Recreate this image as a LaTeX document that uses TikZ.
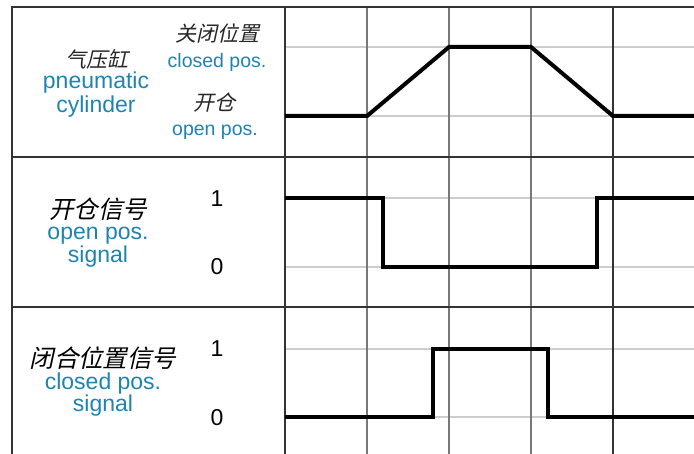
\documentclass[tikz,border=0pt]{standalone}
\usepackage{fontspec}
\setmainfont{Liberation Sans}
\newfontfamily\cjk[FakeSlant=0.22]{Noto Sans CJK SC}
\definecolor{lblue}{RGB}{30,132,175}
\definecolor{gridgray}{RGB}{120,120,120}
\definecolor{lightgray}{RGB}{205,205,205}
\begin{document}
\begin{tikzpicture}[x=1pt,y=-1pt,
  frame/.style={draw=black!80,line width=1.6pt},
  vgrid/.style={draw=gridgray,line width=1.3pt},
  hgrid/.style={draw=lightgray,line width=1.2pt},
  sig/.style={draw=black,line width=4pt,line join=miter},
  en/.style={text=lblue,anchor=base,inner sep=0pt,font=\fontsize{23}{26}\selectfont},
  ens/.style={text=lblue,anchor=base,inner sep=0pt,font=\fontsize{19.5}{22}\selectfont},
  zh/.style={inner sep=0pt,font=\cjk\fontsize{24.5}{26}\selectfont},
  zhs/.style={inner sep=0pt,text=black!85,font=\cjk\fontsize{21}{23}\selectfont},
  num/.style={anchor=base,inner sep=0pt,font=\fontsize{23}{25}\selectfont}]
\useasboundingbox (0,0) rectangle (694,454);
% light horizontal grid
\foreach \y in {47,116,198,267,349,417}
  \draw[hgrid] (285,\y) -- (694,\y);
% vertical grid
\foreach \x in {367,449,531}
  \draw[vgrid] (\x,7) -- (\x,454);
\draw[frame,line width=1.4pt] (613,7) -- (613,454);
% frame
\draw[frame] (694,7) -- (12,7) -- (12,454);
\draw[frame] (285,7) -- (285,454);
\draw[frame] (12,157) -- (694,157);
\draw[frame] (12,307) -- (694,307);
% signals
\draw[sig] (285,116) -- (367,116) -- (449,47) -- (531,47) -- (613,116) -- (694,116);
\draw[sig] (285,198) -- (383,198) -- (383,267) -- (597,267) -- (597,198) -- (694,198);
\draw[sig] (285,417) -- (433,417) -- (433,349) -- (548,349) -- (548,417) -- (694,417);
% row 1 labels
\node[zhs] (qyg) at (97,59) {气压缸};
\node[en] (pn) at (96,89) {pneumatic};
\node[en] (cy) at (96,113) {cylinder};
\node[zhs] (gb) at (217,33) {关闭位置};
\node[ens] (cp) at (217,68) {closed pos.};
\node[zhs] (kc) at (214,103) {开仓};
\node[ens] (op) at (215,136) {open pos.};
% row 2 labels
\node[zh] (kcx) at (98,209) {开仓信号};
\node[en] (op2) at (98,240) {open pos.};
\node[en] (sg2) at (98,263) {signal};
\node[num] (one2) at (217,207) {1};
\node[num] (zero2) at (217,275) {0};
% row 3 labels
\node[zh] (bh) at (103,358) {闭合位置信号};
\node[en] (cp3) at (103,390) {closed pos.};
\node[en] (sg3) at (103,412) {signal};
\node[num] (one3) at (217,357) {1};
\node[num] (zero3) at (217,425) {0};
\end{tikzpicture}
\end{document}
